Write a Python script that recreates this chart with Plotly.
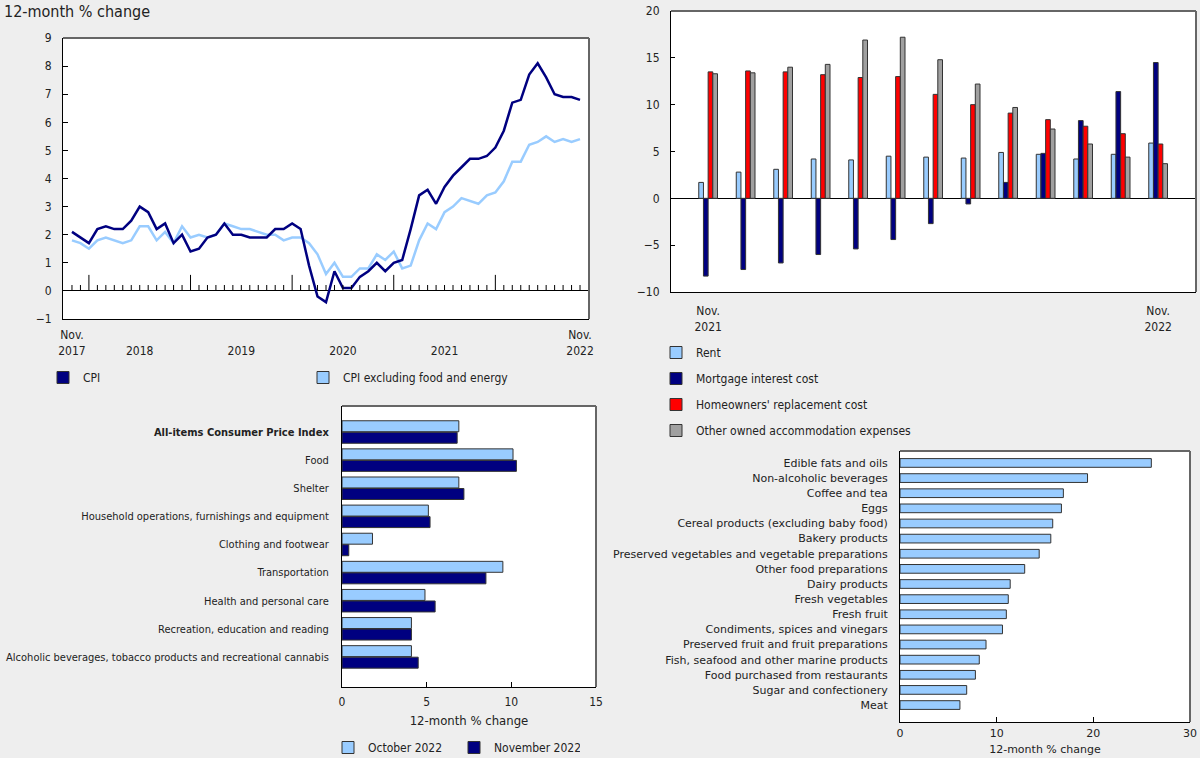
import plotly.graph_objects as go

# ---------------- DATA ----------------
# Panel 1: CPI and CPI excluding food and energy, Nov 2017 - Nov 2022 (12-month % change)
cpi = [2.1, 1.9,
       1.7, 2.2, 2.3, 2.2, 2.2, 2.5, 3.0, 2.8, 2.2, 2.4, 1.7, 2.0,
       1.4, 1.5, 1.9, 2.0, 2.4, 2.0, 2.0, 1.9, 1.9, 1.9, 2.2, 2.2,
       2.4, 2.2, 0.9, -0.2, -0.4, 0.7, 0.1, 0.1, 0.5, 0.7, 1.0, 0.7,
       1.0, 1.1, 2.2, 3.4, 3.6, 3.1, 3.7, 4.1, 4.4, 4.7, 4.7, 4.8,
       5.1, 5.7, 6.7, 6.8, 7.7, 8.1, 7.6, 7.0, 6.9, 6.9, 6.8]
cpi_core = [1.8, 1.7,
            1.5, 1.8, 1.9, 1.8, 1.7, 1.8, 2.3, 2.3, 1.8, 2.1, 1.7, 2.3,
            1.9, 2.0, 1.9, 2.0, 2.4, 2.3, 2.2, 2.2, 2.1, 2.0, 2.0, 1.8,
            1.9, 1.9, 1.7, 1.3, 0.6, 1.0, 0.5, 0.5, 0.8, 0.8, 1.3, 1.1,
            1.4, 0.8, 0.9, 1.8, 2.4, 2.2, 2.8, 3.0, 3.3, 3.2, 3.1, 3.4,
            3.5, 3.9, 4.6, 4.6, 5.2, 5.3, 5.5, 5.3, 5.4, 5.3, 5.4]
cpi_tick_pos = [0, 8, 20, 32, 44, 60]
cpi_tick_text = ["Nov.<br>2017", "<br>2018", "<br>2019", "<br>2020", "<br>2021", "Nov.<br>2022"]
january_pos = [2, 14, 26, 38, 50]
cpi_names = ["CPI", "CPI excluding food and energy"]

# Panel 2: shelter components, Nov 2021 - Nov 2022
rent = [1.7, 2.8, 3.1, 4.2, 4.1, 4.5, 4.4, 4.3, 4.9, 4.7, 4.2, 4.7, 5.9]
mortgage = [-8.3, -7.6, -6.9, -6.0, -5.4, -4.4, -2.7, -0.6, 1.7, 4.8, 8.3, 11.4, 14.5]
replacement = [13.5, 13.6, 13.5, 13.2, 12.9, 13.0, 11.1, 10.0, 9.1, 8.4, 7.7, 6.9, 5.8]
other_owned = [13.3, 13.4, 14.0, 14.3, 16.9, 17.2, 14.8, 12.2, 9.7, 7.4, 5.8, 4.4, 3.7]
shelter_names = ["Rent", "Mortgage interest cost", "Homeowners' replacement cost",
                 "Other owned accommodation expenses"]
shelter_tick_pos = [0, 12]
shelter_tick_text = ["Nov.<br>2021", "Nov.<br>2022"]

# Panel 3: major components
components = ["All-items Consumer Price Index", "Food", "Shelter",
              "Household operations, furnishings and equipment", "Clothing and footwear",
              "Transportation", "Health and personal care",
              "Recreation, education and reading",
              "Alcoholic beverages, tobacco products and recreational cannabis"]
oct_2022 = [6.9, 10.1, 6.9, 5.1, 1.8, 9.5, 4.9, 4.1, 4.1]
nov_2022 = [6.8, 10.3, 7.2, 5.2, 0.4, 8.5, 5.5, 4.1, 4.5]
month_names = ["October 2022", "November 2022"]

# Panel 4: food components
food_items = ["Edible fats and oils", "Non-alcoholic beverages", "Coffee and tea", "Eggs",
              "Cereal products (excluding baby food)", "Bakery products",
              "Preserved vegetables and vegetable preparations", "Other food preparations",
              "Dairy products", "Fresh vegetables", "Fresh fruit",
              "Condiments, spices and vinegars", "Preserved fruit and fruit preparations",
              "Fish, seafood and other marine products", "Food purchased from restaurants",
              "Sugar and confectionery", "Meat"]
food_values = [26.0, 19.4, 16.9, 16.7, 15.8, 15.6, 14.4, 12.9, 11.4, 11.2, 11.0, 10.6,
               8.9, 8.2, 7.8, 6.9, 6.2]

axis_title = "12-month % change"

# ---------------- STYLE ----------------
W, H = 1200, 758
NAVY = "#000080"
LIGHT = "#99ccff"
RED = "#ff0000"
GREY = "#a0a0a0"
OUTLINE = "#333333"
BG = "#eeeeee"
TXT = "#222222"
FONT = "DejaVu Sans Condensed, DejaVu Sans, Liberation Sans, sans-serif"
FONT_WIDE = "DejaVu Sans, Liberation Sans, sans-serif"


def px_x(a, b):
    return [a / W, b / W]


def px_y(top, bottom):
    return [1 - bottom / H, 1 - top / H]


fig = go.Figure()

# ---- Panel 1 ----
idx = list(range(len(cpi)))
fig.add_trace(go.Scatter(x=idx, y=cpi_core, mode="lines", line=dict(color=LIGHT, width=2.5),
                         showlegend=False, xaxis="x", yaxis="y", hoverinfo="skip"))
fig.add_trace(go.Scatter(x=idx, y=cpi, mode="lines", line=dict(color=NAVY, width=2.5),
                         showlegend=False, xaxis="x", yaxis="y", hoverinfo="skip"))
for name, col in zip(cpi_names, [NAVY, LIGHT]):
    fig.add_trace(go.Bar(x=[None], y=[None], name=name, xaxis="x", yaxis="y",
                         marker=dict(color=col, line=dict(color=OUTLINE, width=1)),
                         legend="legend"))

# ---- Panel 2 ----
sidx = list(range(len(rent)))
for i, (name, vals, col) in enumerate(zip(shelter_names, [rent, mortgage, replacement, other_owned],
                                          [LIGHT, NAVY, RED, GREY])):
    fig.add_trace(go.Bar(x=sidx, y=vals, name=name, xaxis="x2", yaxis="y2",
                         marker=dict(color=col, line=dict(color=OUTLINE, width=1)),
                         legend="legend2", legendgroup="g%d" % i))

# ---- Panel 3 ----
for name, vals, col, off in zip(month_names, [oct_2022, nov_2022], [LIGHT, NAVY], [-0.40, 0.01]):
    fig.add_trace(go.Bar(y=components, x=vals, orientation="h", name=name,
                         xaxis="x3", yaxis="y3", width=0.39, offset=off,
                         marker=dict(color=col, line=dict(color=OUTLINE, width=1)),
                         legend="legend3"))

# ---- Panel 4 ----
fig.add_trace(go.Bar(y=food_items, x=food_values, orientation="h", showlegend=False,
                     xaxis="x4", yaxis="y4", width=0.575, offset=-0.2875,
                     marker=dict(color=LIGHT, line=dict(color=OUTLINE, width=1))))

# ---- Panel 1 month ticks on the zero line ----
shapes = []
for i in idx:
    top = 0.57 if i in january_pos else 0.21
    shapes.append(dict(type="line", xref="x", yref="y", x0=i, x1=i, y0=0, y1=top,
                       line=dict(color="#000000", width=1), layer="above"))

# grey top/right frame lines on every panel
for xa, ya in [("x", "y"), ("x2", "y2"), ("x3", "y3"), ("x4", "y4")]:
    shapes.append(dict(type="line", xref=xa + " domain", yref=ya + " domain", x0=0, x1=1, y0=1, y1=1,
                       line=dict(color="#666666", width=2), layer="above"))
    shapes.append(dict(type="line", xref=xa + " domain", yref=ya + " domain", x0=1, x1=1, y0=0, y1=1,
                       line=dict(color="#666666", width=2), layer="above"))

tickfont = dict(family=FONT, size=12, color=TXT)
catfont = dict(family=FONT, size=11, color=TXT)
foodfont = dict(family=FONT_WIDE, size=11, color=TXT)

common_axis = dict(showgrid=False, showline=True, linecolor="#000000", linewidth=1,
                   tickfont=tickfont, zeroline=False, automargin=False)

layout = dict(
    width=W, height=H, margin=dict(l=0, r=0, t=0, b=0, autoexpand=False),
    paper_bgcolor=BG, plot_bgcolor="#ffffff",
    font=dict(family=FONT, size=12, color=TXT),
    barmode="group", bargap=0.5, bargroupgap=0,
    shapes=shapes,
    # panel 1
    xaxis=dict(domain=px_x(63, 589), anchor="y", range=[-1.06, 61.06],
               tickmode="array", tickvals=cpi_tick_pos, ticktext=cpi_tick_text,
               ticks="", ticklabelstandoff=5, **common_axis),
    yaxis=dict(domain=px_y(38, 319), anchor="x", range=[-1, 9], dtick=1,
               ticks="inside", ticklen=5, tickcolor="#000000", ticklabelstandoff=8,
               **{**common_axis, "zeroline": True}, zerolinecolor="#000000", zerolinewidth=1),
    # panel 2
    xaxis2=dict(domain=px_x(671, 1196), anchor="y2", range=[-0.99, 13.01],
                tickmode="array", tickvals=shelter_tick_pos, ticktext=shelter_tick_text,
                ticks="", ticklabelstandoff=8, **common_axis),
    yaxis2=dict(domain=px_y(11, 292), anchor="x2", range=[-10, 20], dtick=5,
                ticks="inside", ticklen=4, tickcolor="#000000", ticklabelstandoff=8,
                **{**common_axis, "zeroline": True}, zerolinecolor="#000000", zerolinewidth=1),
    # panel 3
    xaxis3=dict(domain=px_x(342, 596), anchor="y3", range=[0, 15], dtick=5,
                ticks="inside", ticklen=5, tickcolor="#000000", ticklabelstandoff=4,
                title=dict(text=axis_title, font=dict(family=FONT, size=13, color=TXT), standoff=7),
                **common_axis),
    yaxis3=dict(domain=px_y(406, 687), anchor="x3", type="category",
                range=[len(components) - 1 + 1.07, -0.925],
                tickmode="array", tickvals=components,
                ticktext=["<b>" + c + "</b>" if i == 0 else c for i, c in enumerate(components)],
                ticks="", ticklabelstandoff=10,
                **{**common_axis, "tickfont": catfont}),
    # panel 4
    xaxis4=dict(domain=px_x(900, 1190), anchor="y4", range=[0, 30], dtick=10,
                ticks="inside", ticklen=5, tickcolor="#000000", ticklabelstandoff=1,
                title=dict(text=axis_title, font=foodfont, standoff=6),
                **{**common_axis, "tickfont": foodfont}),
    yaxis4=dict(domain=px_y(451, 722), anchor="x4", type="category",
                range=[len(food_items) - 1 + 1.12, -0.79],
                ticks="", ticklabelstandoff=9,
                **{**common_axis, "tickfont": foodfont}),
    legend=dict(orientation="h", x=43 / W, xanchor="left", y=1 - 363 / H, yanchor="top",
                bgcolor="rgba(0,0,0,0)", entrywidth=215, font=tickfont),
    legend2=dict(orientation="v", x=656 / W, xanchor="left", y=1 - 338 / H, yanchor="top",
                 bgcolor="rgba(0,0,0,0)", tracegroupgap=7, font=tickfont),
    legend3=dict(orientation="h", x=328 / W, xanchor="left", y=1 - 733 / H, yanchor="top",
                 bgcolor="rgba(0,0,0,0)", entrywidth=81, font=tickfont),
    annotations=[dict(text=axis_title, xref="paper", yref="paper", x=2 / W, y=1 - 0 / H,
                      xanchor="left", yanchor="top", showarrow=False,
                      font=dict(family=FONT, size=16, color=TXT))],
)
fig.update_layout(**layout)

fig.write_html("out.html", config={"displayModeBar": False},
               post_script="document.body.style.margin='0';")
